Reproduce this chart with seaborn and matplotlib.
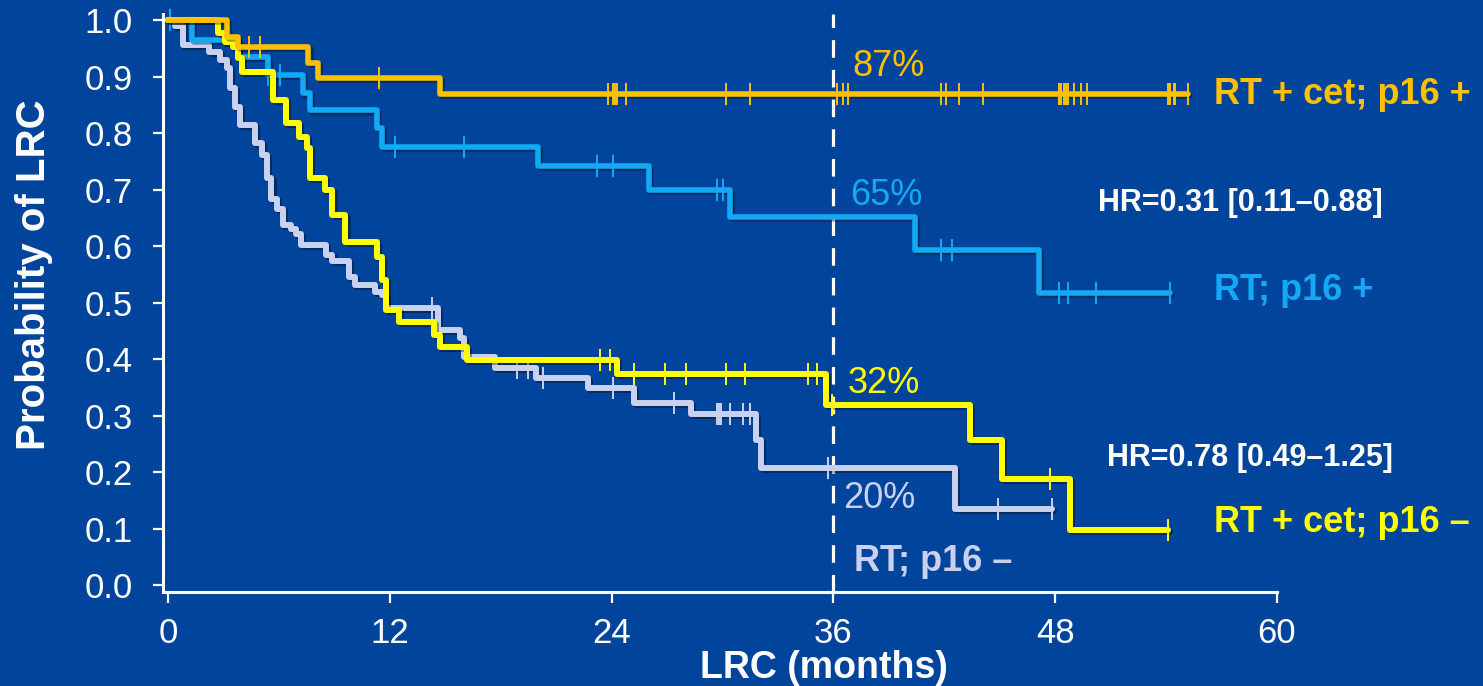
import numpy as np
import pandas as pd
import matplotlib
matplotlib.use("Agg")
import matplotlib.pyplot as plt
import matplotlib.patheffects as pe
import seaborn as sns

# Kaplan-Meier step data: event times (months) and survival after each step
orange_t = [0, 3.2, 3.8, 7.6, 8.1, 14.7, 55.2]
orange_s = [1.0, 0.970, 0.952, 0.924, 0.898, 0.869, 0.869]
orange_cens = [4.4, 5.0, 11.4, 23.8, 24.1, 24.2, 24.3, 24.8, 30.2, 31.5, 36.2, 36.5,
               36.8, 41.8, 42.1, 42.8, 44.1, 48.2, 48.3, 48.5, 48.6, 48.7, 49.0,
               49.4, 49.7, 54.1, 54.2, 54.4, 54.5, 55.2]

blue_t = [0, 1.3, 3.8, 5.4, 7.3, 7.7, 11.3, 11.6, 20.0, 26.0, 30.4, 40.4, 47.1, 54.2]
blue_s = [1.0, 0.965, 0.934, 0.903, 0.870, 0.840, 0.809, 0.775, 0.742, 0.700, 0.651,
          0.593, 0.517, 0.517]
blue_cens = [0.1, 5.4, 6.05, 12.3, 16.0, 23.2, 24.1, 29.7, 30.05, 41.8, 42.4, 48.2,
             48.7, 50.2, 54.2]

yellow_t = [0, 2.7, 3.1, 3.5, 3.8, 4.0, 5.7, 6.4, 7.1, 7.5, 7.7, 8.5, 8.9, 9.6, 11.3,
            11.6, 11.8, 12.5, 14.4, 14.7, 16.2, 24.3, 35.6, 43.4, 45.1, 48.8, 54.1]
yellow_s = [1.0, 0.977, 0.961, 0.952, 0.933, 0.908, 0.858, 0.818, 0.793, 0.773, 0.720,
            0.699, 0.655, 0.607, 0.581, 0.540, 0.487, 0.465, 0.442, 0.421, 0.398,
            0.373, 0.319, 0.257, 0.188, 0.097, 0.097]
yellow_cens = [23.4, 23.9, 25.2, 26.9, 28.05, 30.2, 31.2, 34.6, 35.1, 35.9, 47.7, 54.1]

gray_t = [0, 0.4, 0.8, 2.2, 2.8, 3.2, 3.35, 3.6, 3.9, 4.7, 5.1, 5.35, 5.6, 5.9, 6.2,
          6.65, 6.9, 7.2, 8.55, 8.9, 9.8, 10.1, 11.2, 11.6, 11.8, 14.6, 15.8, 16.0,
          17.7, 19.9, 22.7, 25.2, 28.3, 31.8, 32.1, 42.6, 47.8]
gray_s = [1.0, 0.990, 0.956, 0.943, 0.929, 0.915, 0.880, 0.846, 0.814, 0.782, 0.761,
          0.720, 0.683, 0.666, 0.638, 0.630, 0.622, 0.602, 0.584, 0.573, 0.545,
          0.531, 0.519, 0.513, 0.490, 0.451, 0.437, 0.404, 0.384, 0.366, 0.349,
          0.322, 0.303, 0.257, 0.207, 0.135, 0.135]
gray_cens = [14.3, 18.9, 19.5, 20.3, 24.1, 27.4, 29.7, 29.8, 29.9, 30.4, 31.1, 31.5,
             35.7, 44.9, 47.8]

x_ticks = [0, 12, 24, 36, 48, 60]
y_ticks = [0.0, 0.1, 0.2, 0.3, 0.4, 0.5, 0.6, 0.7, 0.8, 0.9, 1.0]

BG = "#01449B"
C_ORANGE = "#FFC000"
C_BLUE = "#14A9F4"
C_YELLOW = "#FFFF00"
C_GRAY = "#C9D1EF"

sns.set_style("white")
plt.rcParams["font.family"] = ["Liberation Sans", "DejaVu Sans"]

fig = plt.figure(figsize=(14.83, 6.86), dpi=100, facecolor=BG)
ax = fig.add_axes([0.1099, 0.137, 0.7512, 0.842])
ax.set_facecolor(BG)

shadow = [pe.SimpleLineShadow(offset=(1.5, -1.5), shadow_color="black", alpha=0.35),
          pe.Normal()]


def step_at(t, s, x):
    idx = np.searchsorted(np.asarray(t), np.asarray(x), side="right") - 1
    return np.asarray(s)[idx]


curves = [
    (gray_t, gray_s, gray_cens, C_GRAY, 4.3),
    (blue_t, blue_s, blue_cens, C_BLUE, 4.0),
    (yellow_t, yellow_s, yellow_cens, C_YELLOW, 4.3),
    (orange_t, orange_s, orange_cens, C_ORANGE, 4.0),
]

for z, (t, s, cens, color, lw) in enumerate(curves):
    df = pd.DataFrame({"t": t, "s": s})
    sns.lineplot(data=df, x="t", y="s", ax=ax, color=color, linewidth=lw,
                 drawstyle="steps-post", estimator=None, sort=False,
                 path_effects=shadow, clip_on=False, zorder=3 + z)
    cdf = pd.DataFrame({"t": cens, "s": step_at(t, s, cens)})
    sns.scatterplot(data=cdf, x="t", y="s", ax=ax, marker="|", s=260,
                    color=color, linewidth=1.4, clip_on=False, zorder=3 + z)

ax.axvline(36, color="white", linewidth=2.3, dashes=(5.5, 3.8), zorder=2)

ax.set_xlim(-0.27, 60)
ax.set_ylim(-0.0124, 1.01)
ax.set_xticks(x_ticks)
ax.set_yticks(y_ticks)
ax.set_yticklabels([f"{v:.1f}" for v in y_ticks])

for side in ["top", "right"]:
    ax.spines[side].set_visible(False)
for side in ["left", "bottom"]:
    ax.spines[side].set_color("white")
    ax.spines[side].set_linewidth(2.2)

ax.tick_params(axis="both", colors="white", labelcolor="white", labelsize=25,
               width=1.6, direction="out", bottom=True, left=True)
ax.tick_params(axis="y", length=7, pad=15)
ax.tick_params(axis="x", length=8, pad=10)

ax.set_xlabel("LRC (months)", color="white", fontsize=27, fontweight="bold")
ax.xaxis.set_label_coords(0.593, -0.100)
ax.set_ylabel("Probability of LRC", color="white", fontsize=29, fontweight="bold")
ax.yaxis.set_label_coords(-0.099, 0.549)

# survival at 36 months
ax.text(37.0, 0.917, "87%", color=C_ORANGE, fontsize=26, va="center", ha="left")
ax.text(36.9, 0.69, "65%", color=C_BLUE, fontsize=26, va="center", ha="left")
ax.text(36.75, 0.357, "32%", color=C_YELLOW, fontsize=26, va="center", ha="left")
ax.text(36.5, 0.154, "20%", color=C_GRAY, fontsize=26, va="center", ha="left")

# group labels and hazard ratios
ax.text(56.6, 0.869, "RT + cet; p16 +", color=C_ORANGE, fontsize=26,
        fontweight="bold", va="center", ha="left", clip_on=False)
ax.text(50.3, 0.676, "HR=0.31 [0.11\u20130.88]", color="white", fontsize=22,
        fontweight="bold", va="center", ha="left", clip_on=False)
ax.text(56.6, 0.522, "RT; p16 +", color=C_BLUE, fontsize=26,
        fontweight="bold", va="center", ha="left", clip_on=False)
ax.text(50.8, 0.225, "HR=0.78 [0.49\u20131.25]", color="white", fontsize=22,
        fontweight="bold", va="center", ha="left", clip_on=False)
ax.text(56.6, 0.111, "RT + cet; p16 \u2013", color=C_YELLOW, fontsize=26,
        fontweight="bold", va="center", ha="left", clip_on=False)
ax.text(37.1, 0.041, "RT; p16 \u2013", color=C_GRAY, fontsize=26,
        fontweight="bold", va="center", ha="left", clip_on=False)

fig.savefig("out.png", dpi=100, facecolor=BG)
